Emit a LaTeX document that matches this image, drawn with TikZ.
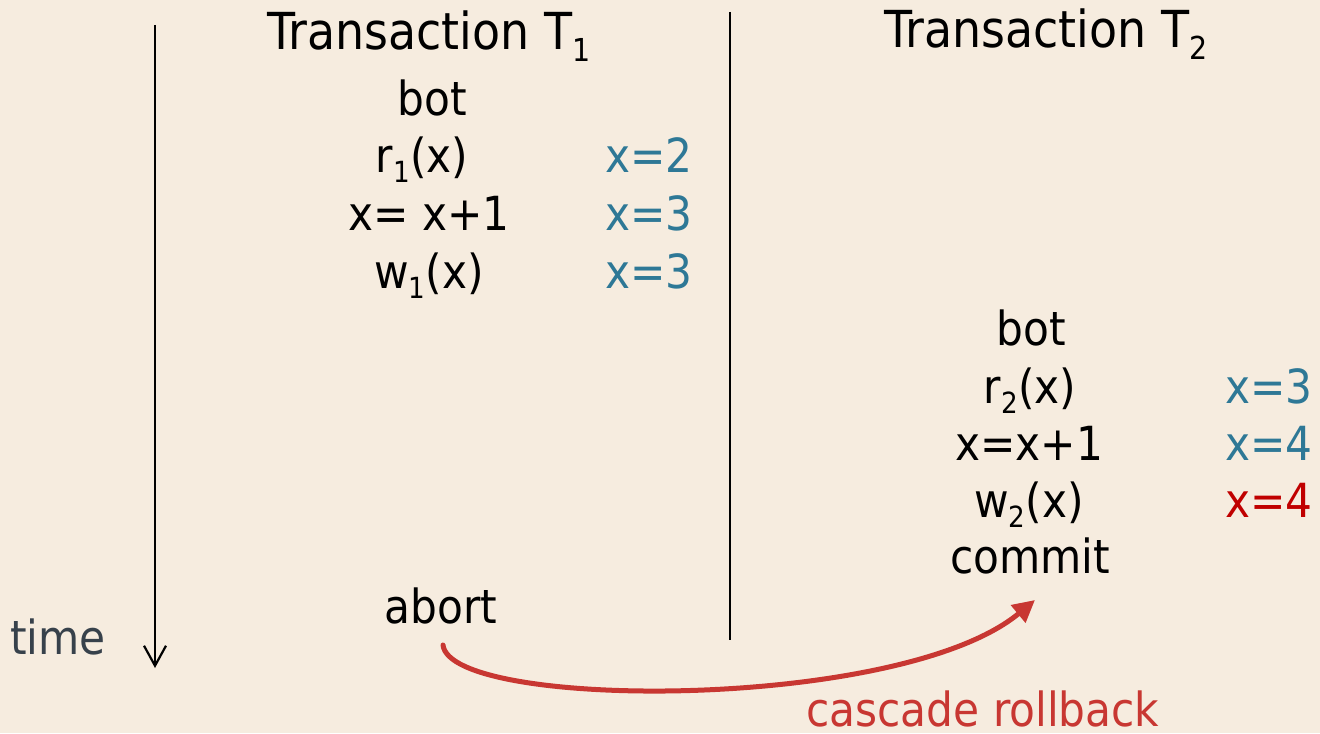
\documentclass[tikz,border=0pt]{standalone}
\usepackage{fontspec}
\setmainfont{DejaVu Sans Condensed}
\usetikzlibrary{arrows.meta}
\definecolor{bgc}{RGB}{246,236,223}
\definecolor{valblue}{RGB}{46,120,150}
\definecolor{valred}{RGB}{192,0,0}
\definecolor{arrred}{RGB}{200,55,50}
\definecolor{timec}{RGB}{55,65,75}
\newcommand\subsc[1]{\raisebox{-0.23em}{\scalebox{0.62}{#1}}}
\begin{document}
\begin{tikzpicture}[x=0.5pt,y=-0.5pt,
  title/.style={anchor=base,inner sep=0pt,font=\fontsize{25.5}{30}\selectfont},
  op/.style={anchor=base,inner sep=0pt,font=\fontsize{23.5}{28}\selectfont},
  val/.style={anchor=base west,inner sep=0pt,font=\fontsize{23.5}{28}\selectfont,text=valblue},
  valbad/.style={val,text=valred},
  lbl/.style={anchor=base west,inner sep=0pt,font=\fontsize{23.5}{28}\selectfont}]
\fill[bgc] (0,0) rectangle (1320,733);
\useasboundingbox (0,0) rectangle (1320,733);
% time axis
\coordinate (ttop) at (155,25);
\coordinate (tbot) at (155,668);
\draw[line width=1.1pt,-{Straight Barb[length=10pt,width=11pt,line width=1.1pt]}] (ttop) -- (tbot);
\node[lbl,text=timec] (time) at (10,654) {time};
% divider
\coordinate (dtop) at (730,12);
\coordinate (dbot) at (730,640);
\draw[line width=1pt] (dtop) -- (dbot);
% T1
\node[title] (t1) at (429,50) {Transaction T\subsc{1}};
\node[op] (bot1) at (432,115) {bot};
\node[op] (r1) at (422,172) {r\subsc{1}(x)};
\node[op] (inc1) at (429,230) {x= x+1};
\node[op] (w1) at (429,288) {w\subsc{1}(x)};
\node[op] (abort) at (441,623) {abort};
\node[val] (v1) at (605,172) {x=2};
\node[val] (v2) at (605,230) {x=3};
\node[val] (v3) at (605,288) {x=3};
% T2
\node[title] (t2) at (1046,48) {Transaction T\subsc{2}};
\node[op] (bot2) at (1031,345) {bot};
\node[op] (r2) at (1030,403) {r\subsc{2}(x)};
\node[op] (inc2) at (1029,460) {x=x+1};
\node[op] (w2) at (1029,517) {w\subsc{2}(x)};
\node[op] (commit) at (1030,573) {commit};
\node[val] (v4) at (1225,403) {x=3};
\node[val] (v5) at (1225,460) {x=4};
\node[valbad] (v6) at (1225,517) {x=4};
% cascade
\coordinate (cs) at (443,645);
\coordinate (ce) at (1035,600);
\draw[arrred,line width=2.5pt,line cap=round,-{Triangle[length=11pt,width=11pt]}] (cs) .. controls (450,710) and (900,712) .. (ce);
\node[lbl,text=arrred] (casc) at (806,726) {cascade rollback};
\end{tikzpicture}
\end{document}
